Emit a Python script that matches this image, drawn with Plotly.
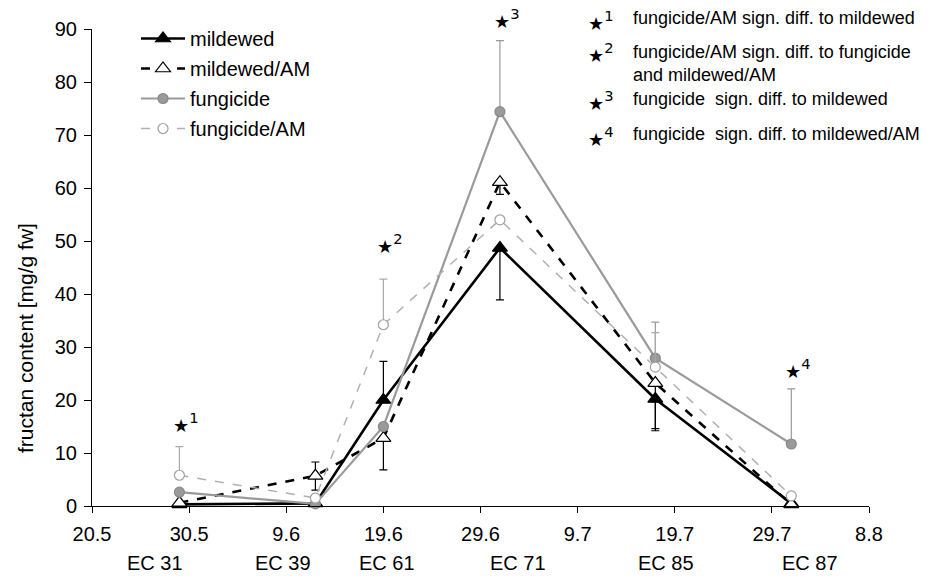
import plotly.graph_objects as go

# ---- data ----
stages = ["EC 31", "EC 39", "EC 61", "EC 71", "EC 85", "EC 87"]
sample_dates = ["2000-05-29", "2000-06-12", "2000-06-19", "2000-07-01", "2000-07-17", "2000-07-31"]

mildewed = [0.3, 0.5, 20.0, 48.7, 20.2, 0.5]
mildewed_plus = [0, 0, 7.3, 0, 0, 0]
mildewed_minus = [0, 0, 0, 9.8, 5.6, 0]

mildewed_am = [0.6, 5.7, 12.8, 61.1, 23.2, 0.3]
mildewed_am_plus = [0, 2.6, 0, 0, 0, 0]
mildewed_am_minus = [0, 2.7, 6.0, 2.3, 9.0, 0]

fungicide = [2.6, 0.4, 15.0, 74.4, 27.9, 11.7]
fungicide_plus = [0, 0, 0, 13.4, 6.8, 10.4]
fungicide_minus = [0, 0, 0, 0, 0, 0]

fungicide_am = [5.8, 1.5, 34.2, 54.0, 26.2, 1.9]
fungicide_am_plus = [5.4, 0, 8.6, 0, 6.5, 0]
fungicide_am_minus = [0, 0, 0, 0, 0, 0]

tick_dates = ["2000-05-20", "2000-05-30", "2000-06-09", "2000-06-19", "2000-06-29",
              "2000-07-09", "2000-07-19", "2000-07-29", "2000-08-08"]
tick_labels = ["20.5", "30.5", "9.6", "19.6", "29.6", "9.7", "19.7", "29.7", "8.8"]
stage_label_dates = ["2000-05-26 12:00", "2000-06-08 16:00", "2000-06-19 08:00",
                     "2000-07-02 20:00", "2000-07-18 02:00", "2000-08-01 22:00"]

star_dates = ["2000-05-29", "2000-06-19", "2000-07-01", "2000-07-31"]
star_values = [15.8, 49.5, 92.0, 26.0]
star_numbers = ["1", "2", "3", "4"]

notes = ["fungicide/AM sign. diff. to mildewed",
         "fungicide/AM sign. diff. to fungicide<br>and mildewed/AM",
         "fungicide  sign. diff. to mildewed",
         "fungicide  sign. diff. to mildewed/AM"]

FONT = "Arial, Liberation Sans, Helvetica, sans-serif"
STAR_FONT = "DejaVu Sans"
Y_MAX = 90

fig = go.Figure()

def add(name, y, plus, minus, color, dash, width, symbol, msize, mcolor, mline, ebcolor):
    fig.add_trace(go.Scatter(
        x=sample_dates, y=y, name=name, mode="lines+markers", legendgroup=name,
        line=dict(color=color, dash=dash, width=width),
        marker=dict(symbol=symbol, size=msize, color=mcolor,
                    line=dict(color=mline, width=1.2)),
        error_y=dict(type="data", symmetric=False, array=plus, arrayminus=minus,
                     color=ebcolor, thickness=1.2, width=4),
        cliponaxis=False,
    ))

add("mildewed", mildewed, mildewed_plus, mildewed_minus,
    "black", "solid", 2.6, "triangle-up", 13, "black", "black", "black")
add("mildewed/AM", mildewed_am, mildewed_am_plus, mildewed_am_minus,
    "black", "dash", 2.6, "triangle-up", 13, "white", "black", "black")
add("fungicide", fungicide, fungicide_plus, fungicide_minus,
    "#9a9a9a", "solid", 2.2, "circle", 10, "#9a9a9a", "#888888", "#999999")
add("fungicide/AM", fungicide_am, fungicide_am_plus, fungicide_am_minus,
    "#b0b0b0", "dash", 1.5, "circle", 10, "white", "#a0a0a0", "#aaaaaa")

# page body has an 8px default margin: plot area in window pixels is 92..869 x 29..506
OFF = 8
L, T, PW, PH = 92 - OFF, 29 - OFF, 777, 477
def px(xw):
    return (xw - OFF - L) / PW
def py(yw):
    return (T + PH - (yw - OFF)) / PH

ann = []
for d, lab in zip(stage_label_dates, stages):
    ann.append(dict(x=d, y=0, xref="x", yref="paper", text=lab, showarrow=False,
                    yanchor="middle", yshift=-57,
                    font=dict(size=20, color="black", family=FONT)))

def star_text(n):
    return ("<span style='font-size:18px'>★</span>"
            "<span style='font-size:21px'><sup>" + n + "</sup></span>")

for d, v, n in zip(star_dates, star_values, star_numbers):
    ann.append(dict(x=d, y=v / Y_MAX, xref="x", yref="paper", text=star_text(n),
                    showarrow=False, xanchor="left", yanchor="middle", xshift=-8,
                    font=dict(size=14, color="black", family=STAR_FONT)))

# y-axis title
ann.append(dict(x=px(25), y=py(338), xref="paper", yref="paper",
                text="fructan content [mg/g fw]", textangle=-90, showarrow=False,
                xanchor="center", yanchor="middle",
                font=dict(size=21, color="black", family=FONT)))

# right-hand notes
note_y = [20, 53, 101, 136]
for n, txt, yy in zip(star_numbers, notes, note_y):
    ann.append(dict(x=px(586), y=py(yy), xref="paper", yref="paper",
                    text=star_text(n), showarrow=False,
                    xanchor="left", yanchor="middle",
                    font=dict(size=14, color="black", family=STAR_FONT)))
    two = "<br>" in txt
    ann.append(dict(x=px(631), y=py(yy - 13 if two else yy - 2), xref="paper", yref="paper",
                    text=txt, showarrow=False, xanchor="left",
                    yanchor="top" if two else "middle", align="left",
                    font=dict(size=18, color="black", family=FONT)))

fig.update_layout(
    width=939, height=576,
    margin=dict(l=L, r=939 - L - PW, t=T, b=576 - T - PH, autoexpand=False),
    paper_bgcolor="white", plot_bgcolor="white",
    font=dict(family=FONT, color="black", size=20),
    showlegend=True,
    legend=dict(x=px(136), y=py(19), xanchor="left", yanchor="top",
                bgcolor="rgba(0,0,0,0)", font=dict(size=20), itemwidth=44,
                tracegroupgap=1),
    xaxis=dict(type="date", range=[tick_dates[0], tick_dates[-1]],
               tickmode="array", tickvals=tick_dates, ticktext=tick_labels,
               showgrid=False, zeroline=False, showline=True, linecolor="black",
               linewidth=1, ticks="outside", ticklen=6, tickcolor="black",
               tickfont=dict(size=20), automargin=False, ticklabelstandoff=4),
    yaxis=dict(range=[0, Y_MAX], tickvals=[0, 10, 20, 30, 40, 50, 60, 70, 80, 90],
               showgrid=False, zeroline=False, showline=True, linecolor="black",
               linewidth=1, ticks="outside", ticklen=7, tickcolor="black",
               tickfont=dict(size=20), automargin=False, ticklabelstandoff=3),
    annotations=ann,
)

fig.write_html("out.html")
